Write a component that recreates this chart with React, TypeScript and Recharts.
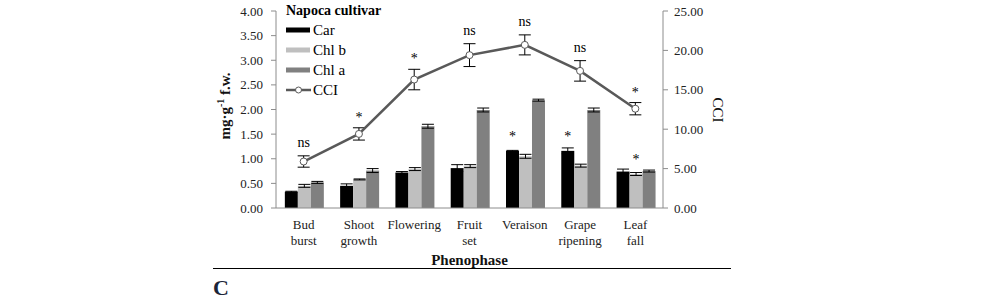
import React from 'react';
import { ComposedChart, Bar, Line, XAxis, YAxis, ErrorBar, LabelList, Legend } from 'recharts';

const phenophases = ['Bud\nburst', 'Shoot\ngrowth', 'Flowering', 'Fruit\nset', 'Veraison', 'Grape\nripening', 'Leaf\nfall'];
const car = [0.33, 0.45, 0.72, 0.81, 1.16, 1.16, 0.74];
const carErr = [0.01, 0.04, 0.02, 0.07, 0.01, 0.06, 0.05];
const chlB = [0.45, 0.58, 0.79, 0.85, 1.05, 0.86, 0.69];
const chlBErr = [0.03, 0.01, 0.03, 0.03, 0.04, 0.03, 0.03];
const chlA = [0.52, 0.76, 1.66, 1.99, 2.19, 1.99, 0.75];
const chlAErr = [0.02, 0.04, 0.04, 0.04, 0.02, 0.04, 0.02];
const cci = [5.9, 9.4, 16.3, 19.4, 20.7, 17.4, 12.6];
const cciErr = [0.72, 0.78, 1.3, 1.45, 1.27, 1.3, 0.78];
const cciSig = ['ns', '*', '*', 'ns', 'ns', 'ns', '*'];
const carSig = ['', '', '', '', '*', '*', ''];
const chlBSig = ['', '', '', '', '', '', '*'];
const leftTicks = [0, 0.5, 1, 1.5, 2, 2.5, 3, 3.5, 4];
const rightTicks = [0, 5, 10, 15, 20, 25];
const boundaryTicks = [0, 1, 2, 3, 4, 5, 6, 7];
const legendOrder = ['Car', 'Chl b', 'Chl a', 'CCI'];

const data = phenophases.map((name, i) => ({
  name,
  car: car[i],
  carErr: carErr[i],
  chlB: chlB[i],
  chlBErr: chlBErr[i],
  chlA: chlA[i],
  chlAErr: chlAErr[i],
  cci: cci[i],
  cciErr: cciErr[i],
  cciTop: cci[i] + cciErr[i],
  cciSig: cciSig[i],
  carSig: carSig[i],
  chlBSig: chlBSig[i],
}));

const FONT = '"Liberation Serif", "Times New Roman", serif';
const AXIS = '#8c8c8c';

const PhenoTick = (props: any) => {
  const { x, y, payload } = props;
  const lines = String(payload.value).split('\n');
  return (
    <text x={x} y={y} textAnchor="middle" fontSize={13} fill="#222" fontFamily={FONT}>
      {lines.map((l, i) => (
        <tspan key={i} x={x} dy={i === 0 ? 13 : 16}>{l}</tspan>
      ))}
    </text>
  );
};

const barSigLabel = (props: any) => {
  const { x, y, width, value } = props;
  if (!value) return null;
  return (
    <text x={x + width / 2} y={y - 10} textAnchor="middle" fontSize={14} fill="#000" fontFamily={FONT}>{value}</text>
  );
};

const lineSigLabel = (props: any) => {
  const { x, y, value } = props;
  if (!value) return null;
  return (
    <text x={x} y={y - (value === '*' ? 6 : 9)} textAnchor="middle" fontSize={14} fill="#000" fontFamily={FONT}>{value}</text>
  );
};

const renderLegend = (props: any) => {
  const payload = (props.payload || [])
    .filter((p: any) => legendOrder.indexOf(p.value) >= 0)
    .sort((a: any, b: any) => legendOrder.indexOf(a.value) - legendOrder.indexOf(b.value));
  return (
    <div style={{ fontFamily: FONT, color: '#000' }}>
      <div style={{ fontWeight: 'bold', fontSize: 14, height: 18, lineHeight: '18px', whiteSpace: 'nowrap' }}>Napoca cultivar</div>
      {payload.map((p: any, i: number) => (
        <div key={i} style={{ display: 'flex', alignItems: 'center', height: 20, fontSize: 15 }}>
          <svg width={25} height={10} style={{ display: 'block' }}>
            {p.type === 'line' ? (
              <g>
                <line x1={0} y1={5} x2={25} y2={5} stroke={p.color} strokeWidth={2.5} />
                <circle cx={12.5} cy={5} r={3} fill="#fff" stroke={p.color} strokeWidth={1} />
              </g>
            ) : (
              <rect x={0} y={2.5} width={24} height={5} fill={p.color} />
            )}
          </svg>
          <span style={{ marginLeft: 2, lineHeight: '20px' }}>{p.value}</span>
        </div>
      ))}
    </div>
  );
};

export default function App() {
  return (
    <div style={{ position: 'absolute', left: 0, top: 0, width: 981, height: 300, background: '#fff', overflow: 'hidden' }}>
      <ComposedChart
        width={981}
        height={300}
        data={data}
        margin={{ top: 11, right: 258, left: 216, bottom: 30 }}
        barCategoryGap="16%"
        barGap={0}
        style={{ fontFamily: FONT }}
      >
        <XAxis
          xAxisId="grid"
          type="number"
          domain={[0, 7]}
          ticks={boundaryTicks}
          allowDataOverflow
          height={0}
          axisLine={false}
          tick={false}
          tickLine={{ stroke: AXIS }}
          tickSize={5}
        />
        <XAxis
          xAxisId="cat"
          dataKey="name"
          height={62}
          interval={0}
          tickLine={false}
          axisLine={{ stroke: AXIS }}
          tick={<PhenoTick />}
          label={{
            content: (lp: any) => {
              const vb = lp.viewBox;
              return (
                <text x={vb.x + vb.width / 2} y={vb.y + vb.height - 5} textAnchor="middle" fontSize={15} fontWeight="bold" fill="#111" fontFamily={FONT}>Phenophase</text>
              );
            },
          }}
        />
        <YAxis
          yAxisId="left"
          width={60}
          domain={[0, 4]}
          ticks={leftTicks}
          interval={0}
          tickFormatter={(v: number) => v.toFixed(2)}
          axisLine={{ stroke: AXIS }}
          tickLine={{ stroke: AXIS }}
          tickSize={5}
          tickMargin={8}
          tick={{ fontSize: 13, fill: '#222', fontFamily: FONT }}
          label={{
            content: () => {
              const cx = 225;
              const cy = 106;
              return (
                <text x={cx} y={cy} textAnchor="middle" dominantBaseline="central" fontSize={15} fontWeight="bold" fill="#111" fontFamily={FONT} transform={`rotate(-90 ${cx} ${cy})`}>
                  mg·g<tspan dy={-5} fontSize={10}>-1</tspan><tspan dy={5}> f.w.</tspan>
                </text>
              );
            },
          }}
        />
        <YAxis
          yAxisId="right"
          orientation="right"
          width={60}
          domain={[0, 25]}
          ticks={rightTicks}
          interval={0}
          tickFormatter={(v: number) => v.toFixed(2)}
          axisLine={{ stroke: AXIS }}
          tickLine={{ stroke: AXIS }}
          tickSize={5}
          tickMargin={6}
          tick={{ fontSize: 13, fill: '#222', fontFamily: FONT }}
          label={{
            content: () => {
              const cx = 718;
              const cy = 110;
              return (
                <text x={cx} y={cy} textAnchor="middle" dominantBaseline="central" fontSize={15} fill="#111" fontFamily={FONT} transform={`rotate(90 ${cx} ${cy})`}>CCI</text>
              );
            },
          }}
        />
        <Legend
          layout="vertical"
          align="center"
          verticalAlign="middle"
          wrapperStyle={{ left: 286, top: 2, width: 150 }}
          content={renderLegend}
        />
        <Bar xAxisId="cat" yAxisId="left" dataKey="car" name="Car" fill="#000000" isAnimationActive={false}>
          <ErrorBar dataKey="carErr" width={6} stroke="#000" strokeWidth={1} direction="y" />
          <LabelList dataKey="carSig" content={barSigLabel} />
        </Bar>
        <Bar xAxisId="cat" yAxisId="left" dataKey="chlB" name="Chl b" fill="#bfbfbf" isAnimationActive={false}>
          <ErrorBar dataKey="chlBErr" width={6} stroke="#000" strokeWidth={1} direction="y" />
          <LabelList dataKey="chlBSig" content={barSigLabel} />
        </Bar>
        <Bar xAxisId="cat" yAxisId="left" dataKey="chlA" name="Chl a" fill="#808080" isAnimationActive={false}>
          <ErrorBar dataKey="chlAErr" width={6} stroke="#000" strokeWidth={1} direction="y" />
        </Bar>
        <Line
          xAxisId="cat"
          yAxisId="right"
          dataKey="cci"
          name="CCI"
          stroke="#595959"
          strokeWidth={2.5}
          dot={{ r: 3.5, fill: '#fff', stroke: '#595959', strokeWidth: 1 }}
          activeDot={false}
          isAnimationActive={false}
        >
          <ErrorBar dataKey="cciErr" width={6} stroke="#000" strokeWidth={1} direction="y" />
        </Line>
        <Line
          xAxisId="cat"
          yAxisId="right"
          dataKey="cciTop"
          name="cciTop"
          stroke="none"
          dot={false}
          activeDot={false}
          legendType="none"
          isAnimationActive={false}
        >
          <LabelList dataKey="cciSig" content={lineSigLabel} />
        </Line>
      </ComposedChart>
      <div style={{ position: 'absolute', left: 213, top: 268, width: 518, height: 0, borderTop: '1.5px solid #000' }} />
      <div style={{ position: 'absolute', left: 213, top: 276, fontFamily: FONT, fontWeight: 'bold', fontSize: 22, color: '#1c2538', lineHeight: '24px' }}>C</div>
    </div>
  );
}
